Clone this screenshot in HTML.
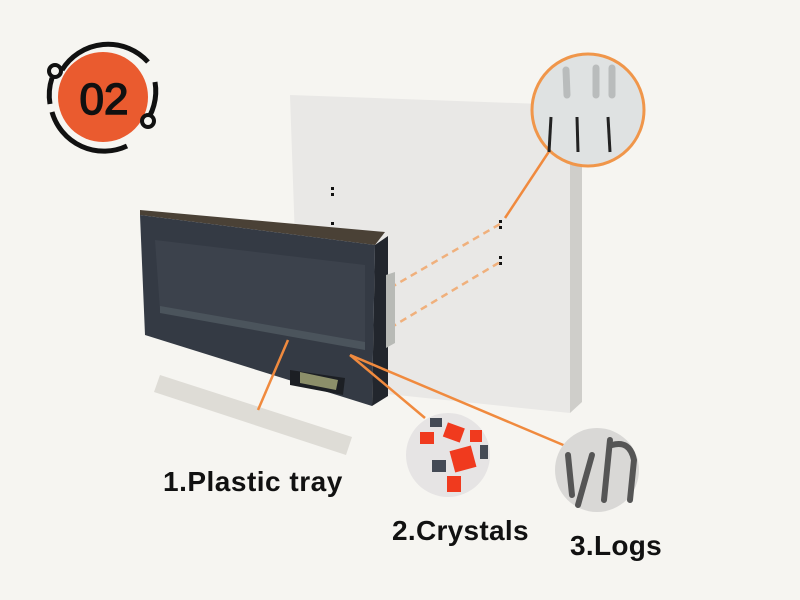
<!DOCTYPE html>
<html><head><meta charset="utf-8"><style>
html,body{margin:0;padding:0;background:#f6f5f1;}
svg{display:block;}
text{font-family:"Liberation Sans",sans-serif;}
</style></head><body>
<svg width="800" height="600" viewBox="0 0 800 600">
<rect width="800" height="600" fill="#f6f5f1"/>
<!-- badge -->
<circle cx="103" cy="97" r="45" fill="#ea5b2f"/>
<path d="M62 70 A54 54 0 0 1 148 62" fill="none" stroke="#111" stroke-width="5"/>
<path d="M155 82 A54 54 0 0 1 143 126" fill="none" stroke="#111" stroke-width="5"/>
<path d="M127 146 A54 54 0 0 1 52 112" fill="none" stroke="#111" stroke-width="5"/>
<path d="M52 78 A54 54 0 0 0 50 104" fill="none" stroke="#111" stroke-width="5"/>
<circle cx="55" cy="71" r="6" fill="#f6f5f1" stroke="#111" stroke-width="4"/>
<circle cx="148" cy="121" r="6" fill="#f6f5f1" stroke="#111" stroke-width="4"/>
<text x="104" y="114" font-size="44" text-anchor="middle" fill="#111" stroke="#111" stroke-width="1.5">02</text>
<!-- wall -->
<polygon points="290,95 570,105 570,413 300,385" fill="#e9e8e6"/>
<polygon points="570,105 582,113 582,402 570,413" fill="#cfceca"/>
<g fill="#111"><rect x="331" y="187" width="3" height="3"/><rect x="331" y="193" width="3" height="3"/><rect x="331" y="222" width="3" height="3"/>
<rect x="499" y="220" width="3" height="3"/><rect x="499" y="226" width="3" height="3"/><rect x="499" y="256" width="3" height="3"/><rect x="499" y="262" width="3" height="3"/></g>
<line x1="390" y1="288" x2="500" y2="224" stroke="#f0b07c" stroke-width="2.5" stroke-dasharray="7,5"/>
<line x1="390" y1="328" x2="500" y2="262" stroke="#f0b07c" stroke-width="2.5" stroke-dasharray="7,5"/>
<line x1="505" y1="218" x2="550" y2="150" stroke="#f08a3e" stroke-width="2.5"/>
<!-- magnifier nails -->
<circle cx="588" cy="110" r="56" fill="#dfe2e2" stroke="#f0964a" stroke-width="3"/>
<g stroke="#b9bcbc" stroke-width="7" stroke-linecap="round"><line x1="566" y1="70" x2="567" y2="95"/><line x1="596" y1="68" x2="596" y2="95"/><line x1="612" y1="68" x2="612" y2="95"/></g>
<g stroke="#222" stroke-width="3"><line x1="551" y1="117" x2="549" y2="152"/><line x1="577" y1="117" x2="578" y2="152"/><line x1="608" y1="117" x2="610" y2="152"/></g>
<!-- heater -->
<polygon points="140,210 385,232 375,245 140,215" fill="#4a4136"/>
<polygon points="375,245 388,236 388,396 372,406" fill="#22262d"/>
<polygon points="140,215 375,245 372,406 145,335" fill="#343a44"/>
<polygon points="155,240 365,265 365,345 160,310" fill="#3c424c"/>
<polygon points="160,306 365,342 365,350 160,313" fill="#4b545c"/>
<polygon points="290,370 345,378 343,395 290,385" fill="#1c1f24"/>
<polygon points="300,372 338,380 336,390 300,383" fill="#8c8f6a"/>
<polygon points="386,275 395,272 395,343 386,348" fill="#b8bab6"/>
<!-- tray -->
<polygon points="160,375 352,437 346,455 154,392" fill="#dedcd6"/>
<!-- orange lines -->
<g stroke="#f08a3e" stroke-width="2.5"><line x1="288" y1="340" x2="258" y2="410"/><line x1="350" y1="355" x2="425" y2="418"/><line x1="350" y1="355" x2="568" y2="447"/></g>
<!-- crystals -->
<circle cx="448" cy="455" r="42" fill="#e6e4e4"/>
<g fill="#f03a1e"><rect x="445" y="425" width="18" height="15" transform="rotate(20 454 432)"/><rect x="452" y="448" width="22" height="22" transform="rotate(-15 463 459)"/><rect x="447" y="476" width="14" height="16"/><rect x="420" y="432" width="14" height="12"/><rect x="470" y="430" width="12" height="12"/></g>
<g fill="#444a55"><rect x="432" y="460" width="14" height="12"/><rect x="430" y="418" width="12" height="9"/><rect x="480" y="445" width="8" height="14"/></g>
<!-- logs -->
<circle cx="597" cy="470" r="42" fill="#d9d8d6"/>
<g stroke="#555" stroke-width="6" stroke-linecap="round" fill="none"><path d="M568 455 L572 495"/><path d="M592 455 L578 505"/><path d="M610 440 L604 500"/><path d="M612 445 Q630 440 634 460 L630 500"/></g>
<!-- labels -->
<text x="163" y="491" font-size="28" font-weight="bold" letter-spacing="0.5" fill="#111">1.Plastic tray</text>
<text x="392" y="540" font-size="28" font-weight="bold" letter-spacing="0.3" fill="#111">2.Crystals</text>
<text x="570" y="555" font-size="28" font-weight="bold" letter-spacing="0.3" fill="#111">3.Logs</text>
</svg>
</body></html>
